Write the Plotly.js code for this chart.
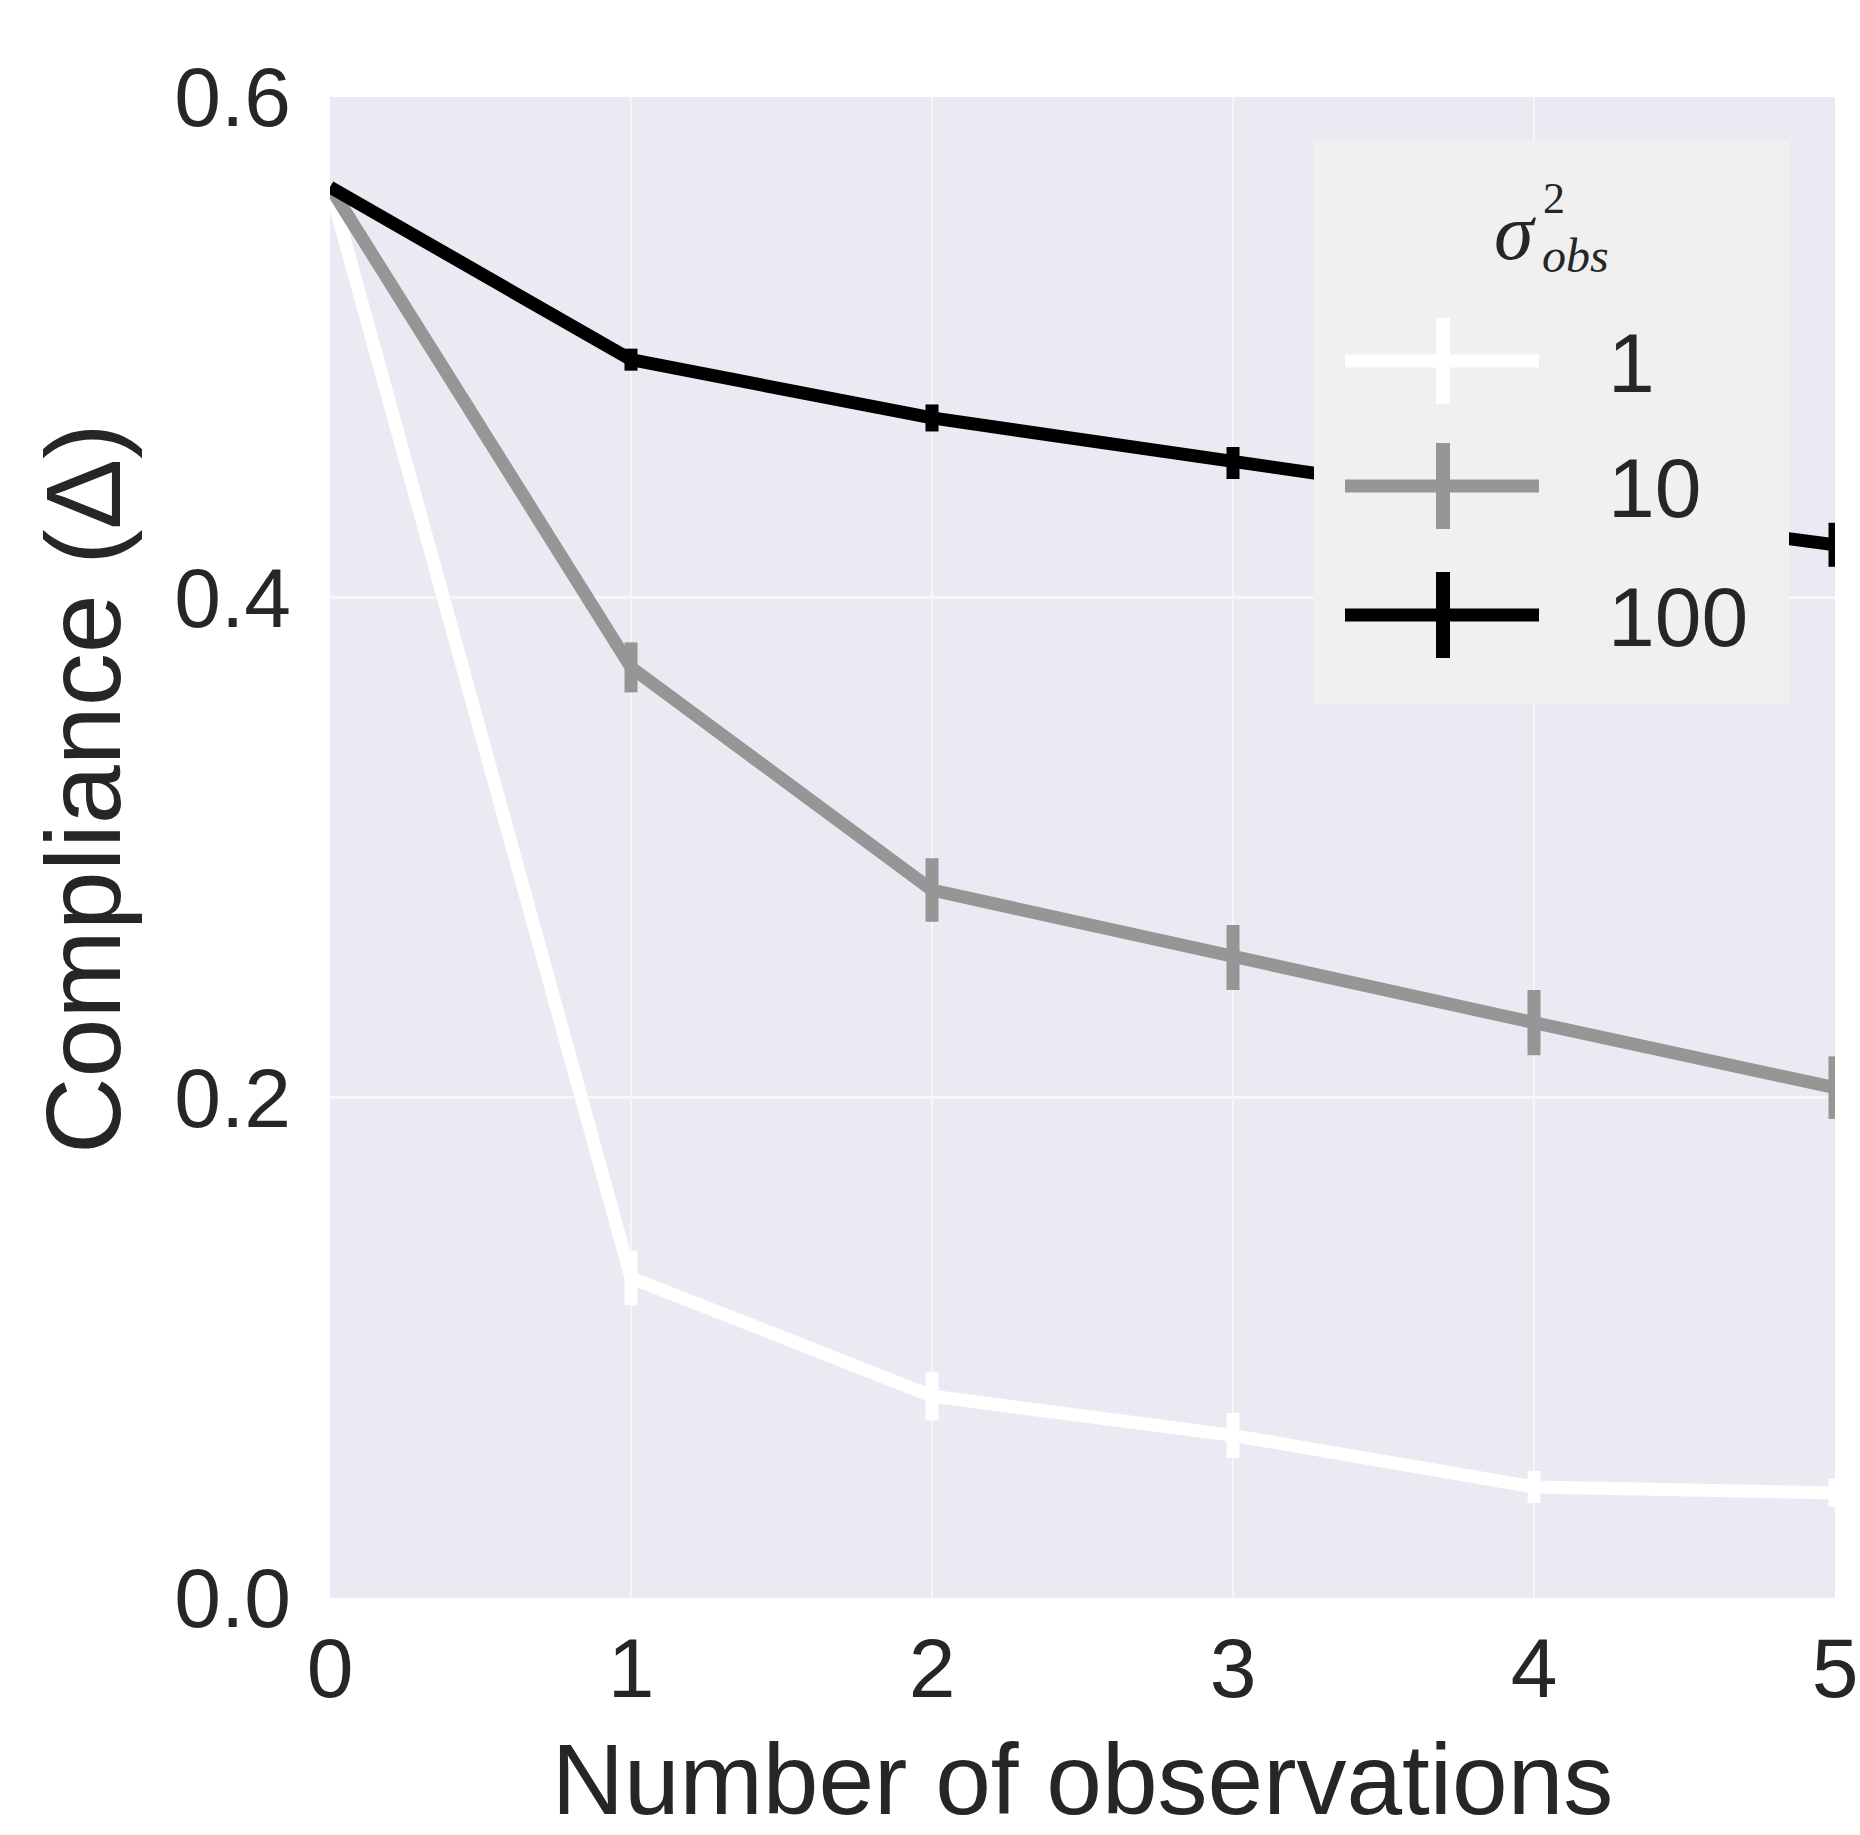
<!DOCTYPE html>
<html>
<head>
<meta charset="utf-8">
<script src="https://cdn.plot.ly/plotly-3.0.1.min.js"></script>
<style>html,body{margin:0;padding:0;background:#fff;}</style>
</head>
<body>
<div id="chart" style="width:1860px;height:1835px;"></div>
<script>
// ---- data ----
const observations = [0, 1, 2, 3, 4, 5];
const xTickLabels = ['0', '1', '2', '3', '4', '5'];
const yTickValues = [0, 0.2, 0.4, 0.6];
const yTickLabels = ['0.0', '0.2', '0.4', '0.6'];

const seriesNames = ['1', '10', '100'];
const seriesColors = ['#ffffff', '#969696', '#000000'];

const compliance_1 = [0.564, 0.128, 0.0807, 0.065, 0.0444, 0.042];
const error_1      = [0, 0.011, 0.0097, 0.009, 0.0064, 0.0056];
const compliance_10 = [0.564, 0.372, 0.283, 0.256, 0.230, 0.204];
const error_10      = [0, 0.010, 0.0127, 0.013, 0.013, 0.0125];
const compliance_100 = [0.564, 0.495, 0.4717, 0.4537, 0.437, 0.421];
const error_100      = [0, 0.0044, 0.0054, 0.0064, 0.0078, 0.0088];

const seriesValues = [compliance_1, compliance_10, compliance_100];
const seriesErrors = [error_1, error_10, error_100];

const xTitle = 'Number of observations';
const yTitle = 'Compliance (Δ)';

// ---- layout geometry ----
const W = 1860, H = 1835;
const M = {l: 330, r: 25, t: 97, b: 237};
const plotW = W - M.l - M.r, plotH = H - M.t - M.b;
const px = x => (x - M.l) / plotW;      // page px -> paper x
const py = y => (H - M.b - y) / plotH;  // page px -> paper y

const textColor = '#262626';
const font = 'Liberation Sans, Arial, sans-serif';

const traces = seriesNames.map((name, i) => ({
  type: 'scatter',
  mode: 'lines',
  name: name,
  x: observations,
  y: seriesValues[i],
  line: {color: seriesColors[i], width: 13},
  error_y: {type: 'data', array: seriesErrors[i], visible: true,
            color: seriesColors[i], thickness: 13, width: 0},
  showlegend: false,
  hoverinfo: 'x+y+name'
}));

// ---- hand-drawn legend (seaborn style box) ----
const shapes = [];
const annotations = [];
const legBox = {x0: 1314, x1: 1789, y0: 141, y1: 704};
shapes.push({type: 'rect', xref: 'paper', yref: 'paper',
  x0: px(legBox.x0), x1: px(legBox.x1), y0: py(legBox.y1), y1: py(legBox.y0),
  fillcolor: '#f0f0f0', line: {width: 0}, layer: 'above'});
const rowY = [361, 486, 615];
seriesNames.forEach((name, i) => {
  shapes.push({type: 'line', xref: 'paper', yref: 'paper',
    x0: px(1345), x1: px(1539), y0: py(rowY[i]), y1: py(rowY[i]),
    line: {color: seriesColors[i], width: 13}, layer: 'above'});
  shapes.push({type: 'line', xref: 'paper', yref: 'paper',
    x0: px(1443), x1: px(1443), y0: py(rowY[i] - 43), y1: py(rowY[i] + 43),
    line: {color: seriesColors[i], width: 14}, layer: 'above'});
  annotations.push({xref: 'paper', yref: 'paper', x: px(1606), y: py(rowY[i] + 2),
    xanchor: 'left', yanchor: 'middle', showarrow: false, text: name,
    font: {family: font, size: 84, color: textColor}});
});
// legend title  σ^2_obs
annotations.push({xref: 'paper', yref: 'paper', x: px(1538), y: py(232),
  xanchor: 'right', yanchor: 'middle', showarrow: false, text: '<i>σ</i>',
  font: {family: 'Liberation Serif, serif', size: 80, color: textColor}});
annotations.push({xref: 'paper', yref: 'paper', x: px(1541), y: py(198),
  xanchor: 'left', yanchor: 'middle', showarrow: false, text: '2',
  font: {family: 'Liberation Serif, serif', size: 44, color: textColor}});
annotations.push({xref: 'paper', yref: 'paper', x: px(1540), y: py(255),
  xanchor: 'left', yanchor: 'middle', showarrow: false, text: '<i>obs</i>',
  font: {family: 'Liberation Serif, serif', size: 48, color: textColor}});

// y-axis title, placed as in the reference (slightly above centre)
annotations.push({xref: 'paper', yref: 'paper', x: px(83), y: py(789),
  xanchor: 'center', yanchor: 'middle', showarrow: false, textangle: -90,
  text: yTitle, font: {family: font, size: 106, color: textColor}});

const layout = {
  width: W, height: H,
  margin: {l: M.l, r: M.r, t: M.t, b: M.b, pad: 0},
  paper_bgcolor: '#ffffff',
  plot_bgcolor: '#eaeaf2',
  showlegend: false,
  font: {family: font, color: textColor},
  xaxis: {
    range: [0, 5], tickvals: observations, ticktext: xTickLabels,
    showgrid: true, gridcolor: '#f6f6f9', gridwidth: 2.5,
    zeroline: false, showline: false, ticks: '',
    tickfont: {family: font, size: 84, color: textColor},
    ticklabelstandoff: 14,
    automargin: false,
    title: {text: xTitle, standoff: 36,
            font: {family: font, size: 100, color: textColor}}
  },
  yaxis: {
    range: [0, 0.6], tickvals: yTickValues, ticktext: yTickLabels,
    showgrid: true, gridcolor: '#f6f6f9', gridwidth: 2.5,
    zeroline: false, showline: false, ticks: '',
    tickfont: {family: font, size: 84, color: textColor},
    ticklabelstandoff: 38,
    automargin: false
  },
  shapes: shapes,
  annotations: annotations
};

Plotly.newPlot('chart', traces, layout, {staticPlot: true, displayModeBar: false});
</script>
</body>
</html>
